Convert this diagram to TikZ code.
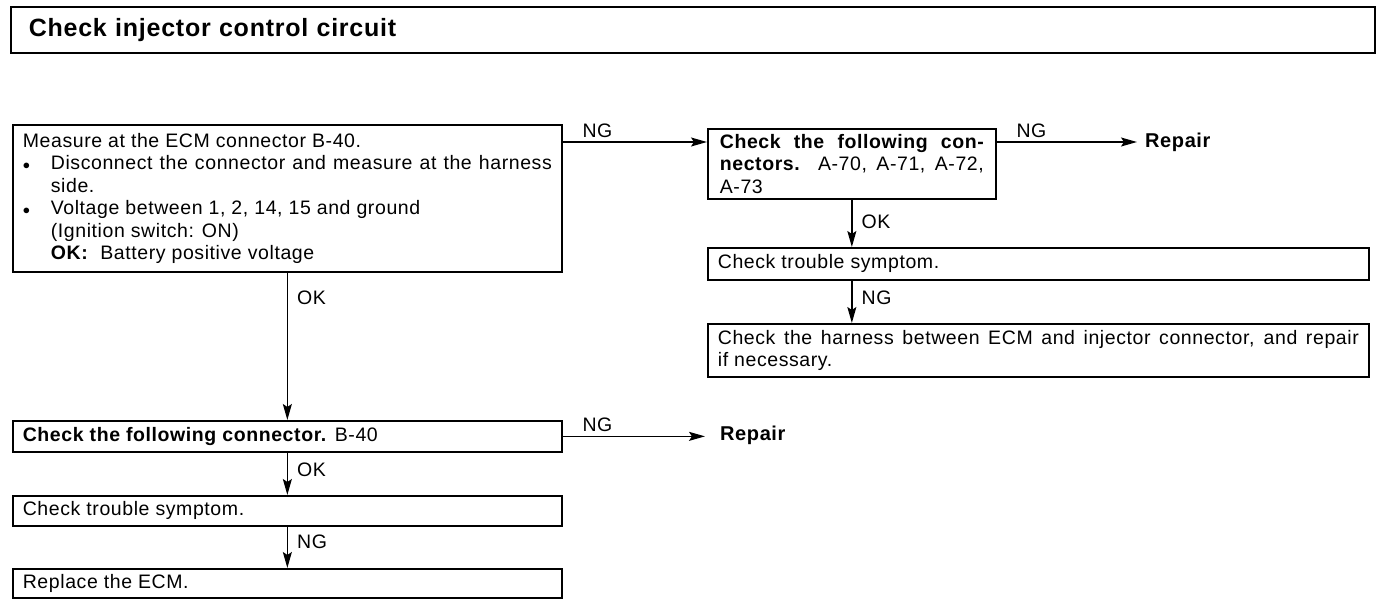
\documentclass[tikz,border=0pt]{standalone}
\usepackage{fontspec}
\setmainfont{Liberation Sans}[LetterSpace=3.0]
\usetikzlibrary{arrows.meta,positioning}

\tikzset{
  box/.style={draw, line width=1.7pt, anchor=north west, inner xsep=10pt, inner ysep=3pt, align=justify},
  flow/.style={line width=1.6pt, -{Stealth[length=16pt,width=9pt,inset=3pt]}},
  lbl/.style={anchor=west, inner sep=0pt, xshift=9pt},
  nglbl/.style={anchor=south west, inner sep=0pt, xshift=19pt, yshift=4pt},
  endtext/.style={anchor=west, inner sep=0pt, font=\fontsize{20}{22.5}\selectfont\bfseries},
}

\newcommand{\bul}{\makebox[28pt][l]{\Large$\bullet$}}
\newcommand{\nl}{\hfill\break}

\begin{document}
\begin{tikzpicture}[x=1pt, y=-1pt, every node/.style={font=\fontsize{19.5}{22.5}\selectfont}]
	\useasboundingbox (0,0) rectangle (1392,606);
	
	% Title
	\node[box, text width=1328pt, minimum height=46pt, inner xsep=18pt, align=left,
	  font=\fontsize{25}{28}\selectfont\bfseries] (title) at (10,6) {Check injector control circuit};
	
	% Left column
	\node[box, text width=529pt, minimum height=147pt] (measure) at (12,124) {\hyphenpenalty=10000
		Measure at the ECM connector B-40.\par
		\hangindent=28pt\hangafter=1 \bul Disconnect the connector and measure at the harness side.\par
		\hangindent=28pt\hangafter=1 \bul Voltage between 1, 2, 14, 15 and ground\nl(Ignition switch: ON)\nl\textbf{OK:}\ \ Battery positive voltage\par};
	\node[box, text width=529pt, minimum height=31pt] (connB) at (12,420) {\textbf{Check the following connector.} B-40};
	\node[box, text width=529pt, minimum height=30pt] (symB) at (12,495) {Check trouble symptom.};
	\node[box, text width=529pt, minimum height=29pt] (ecm) at (12,568) {Replace the ECM.};
	
	% Right column
	\node[box, text width=264pt, minimum height=70pt, inner xsep=12pt] (checks) at (707,128) {\textbf{Check the following con-}\linebreak\textbf{nectors.}\ \ A-70, A-71, A-72,\linebreak A-73};
	\node[box, text width=641pt, minimum height=32pt] (symA) at (707,247) {Check trouble symptom.};
	\node[box, text width=641pt, minimum height=53pt] (harness) at (707,323) {Check the harness between ECM and injector connector, and repair\linebreak if necessary.};
	
	% End texts
	\node[endtext] (repairA) at (1145,142) {Repair};
	\node[endtext] (repairB) at (720,435.5) {Repair};
	
	% Connectors
	\coordinate (ng1) at ([yshift=-18pt]measure.north east);
	\coordinate (ng2) at ([yshift=-14pt]checks.north east);
	\draw[flow] (ng1) -- (ng1 -| checks.west) node[nglbl, pos=0] {NG};
	\draw[flow, shorten >=8pt] (ng2) -- (ng2 -| repairA.west) node[nglbl, pos=0] {NG};
	\draw[flow] (checks.south) -- (checks.south |- symA.north) node[lbl, pos=0.47] {OK};
	\draw[flow] (checks.south |- symA.south) -- (checks.south |- harness.north) node[lbl, pos=0.41] {NG};
	
	\draw[flow] (measure.south) -- (connB.north) node[lbl, pos=0.17] {OK};
	\draw[flow, shorten >=15pt] (connB.east) -- (connB.east -| repairB.west) node[nglbl, pos=0] {NG};
	\draw[flow] (connB.south) -- (symB.north) node[lbl, pos=0.4] {OK};
	\draw[flow] (symB.south) -- (ecm.north) node[lbl, pos=0.37] {NG};
	
\end{tikzpicture}
\end{document}
